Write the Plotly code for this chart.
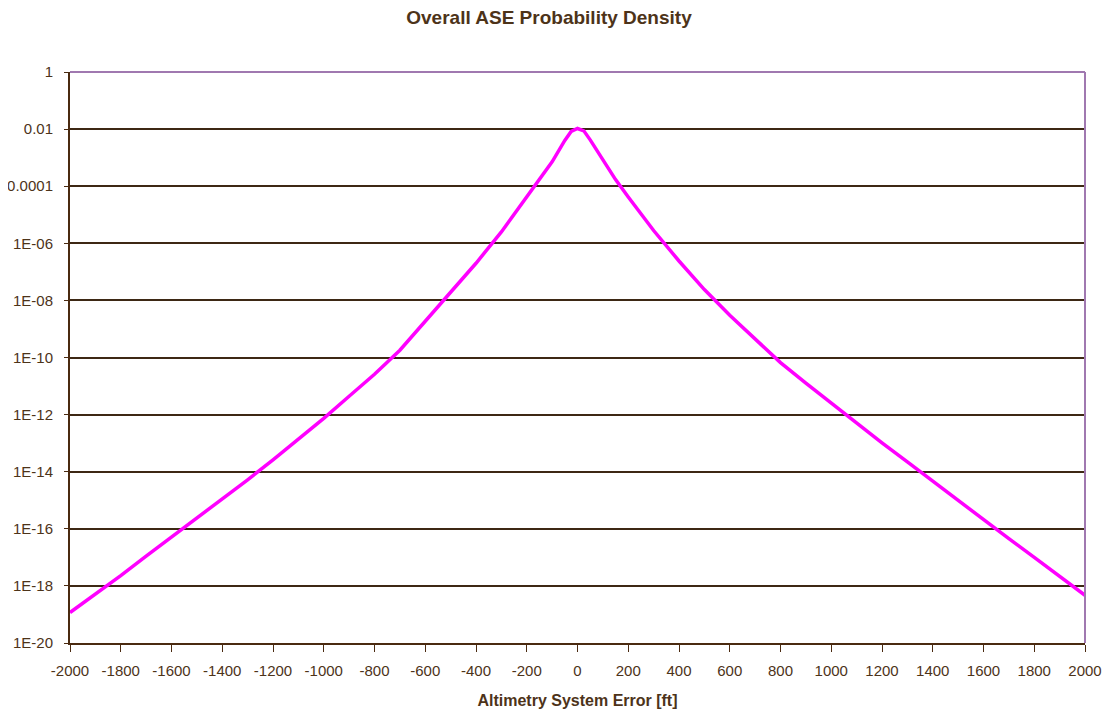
import plotly.graph_objects as go

# Altimetry system error [ft]
ase_ft = [-2000, -1900, -1800, -1700, -1600, -1500, -1400, -1300, -1200, -1100,
          -1000, -900, -800, -700, -600, -500, -400, -300, -200, -100,
          -50, -25, 0, 25, 50, 100, 150, 200, 300, 400, 500, 600, 700, 800,
          900, 1000, 1100, 1200, 1300, 1400, 1500, 1600, 1700, 1800, 1900, 2000]
# Probability density
density = [1.17e-19, 5.1e-19, 2.3e-18, 1.1e-17, 5.1e-17, 2.4e-16, 1.1e-15, 5.2e-15, 2.6e-14, 1.4e-13,
           7.4e-13, 4.4e-12, 2.6e-11, 1.8e-10, 1.8e-9, 1.8e-8, 2.0e-7, 2.5e-6, 4.0e-5, 7.1e-4,
           4.0e-3, 8.3e-3, 1.05e-2, 8.7e-3, 4.2e-3, 8.3e-4, 1.7e-4, 4.2e-5, 2.8e-6, 2.4e-7, 2.4e-8, 3.0e-9, 4.3e-10, 6.6e-11,
           1.26e-11, 2.5e-12, 4.9e-13, 1.02e-13, 2.2e-14, 4.6e-15, 9.8e-16, 2.0e-16, 4.5e-17, 1.0e-17, 2.2e-18, 4.7e-19]

y_tickvals = [1e-20, 1e-18, 1e-16, 1e-14, 1e-12, 1e-10, 1e-8, 1e-6, 1e-4, 1e-2, 1]
y_ticktext = ["1E-20", "1E-18", "1E-16", "1E-14", "1E-12", "1E-10", "1E-08", "1E-06", "0.0001", "0.01", "1"]
x_tickvals = list(range(-2000, 2001, 200))
x_ticktext = [str(v) for v in x_tickvals]

brown = "#4a2a10"
font_col = "#4d3319"
border = "#a078b0"

fig = go.Figure()
fig.add_trace(go.Scatter(x=ase_ft, y=density, mode="lines",
                         line=dict(color="#ff00ff", width=3.5), showlegend=False))

W, H = 1102, 703
fig.update_layout(
    width=W, height=H,
    margin=dict(l=62, r=25, t=64, b=68, autoexpand=False),
    paper_bgcolor="white", plot_bgcolor="white",
    font=dict(family="Liberation Sans, Arial, sans-serif", size=15, color=font_col),
    title=dict(text="<b>Overall ASE Probability Density</b>", x=541 / W, xanchor="center",
               y=1 - 9 / H, yanchor="middle", font=dict(size=19, color=font_col)),
)
fig.update_xaxes(range=[-2000, 2000], tickvals=x_tickvals, ticktext=x_ticktext,
                 ticks="outside", ticklen=7, ticklabelstandoff=6,
                 tickcolor=brown, showline=True, linecolor=brown, linewidth=2,
                 showgrid=False, zeroline=False, automargin=False,
                 title=dict(text="<b>Altimetry System Error [ft]</b>", font=dict(size=16, color=font_col), standoff=17))
fig.update_yaxes(type="log", range=[-20, 0], tickvals=y_tickvals, ticktext=y_ticktext,
                 ticks="outside", ticklen=4, ticklabelstandoff=8, tickcolor=brown,
                 showline=True, linecolor=brown, linewidth=2,
                 showgrid=True, gridcolor="#3d2814", gridwidth=1.5, zeroline=False, automargin=False)
# top and right border of plot area
fig.add_shape(type="line", xref="paper", yref="paper", x0=0, x1=1, y0=1, y1=1,
              line=dict(color=border, width=2))
fig.add_shape(type="line", xref="paper", yref="paper", x0=1, x1=1, y0=0, y1=1,
              line=dict(color=border, width=2))

fig.write_html("out.html")
